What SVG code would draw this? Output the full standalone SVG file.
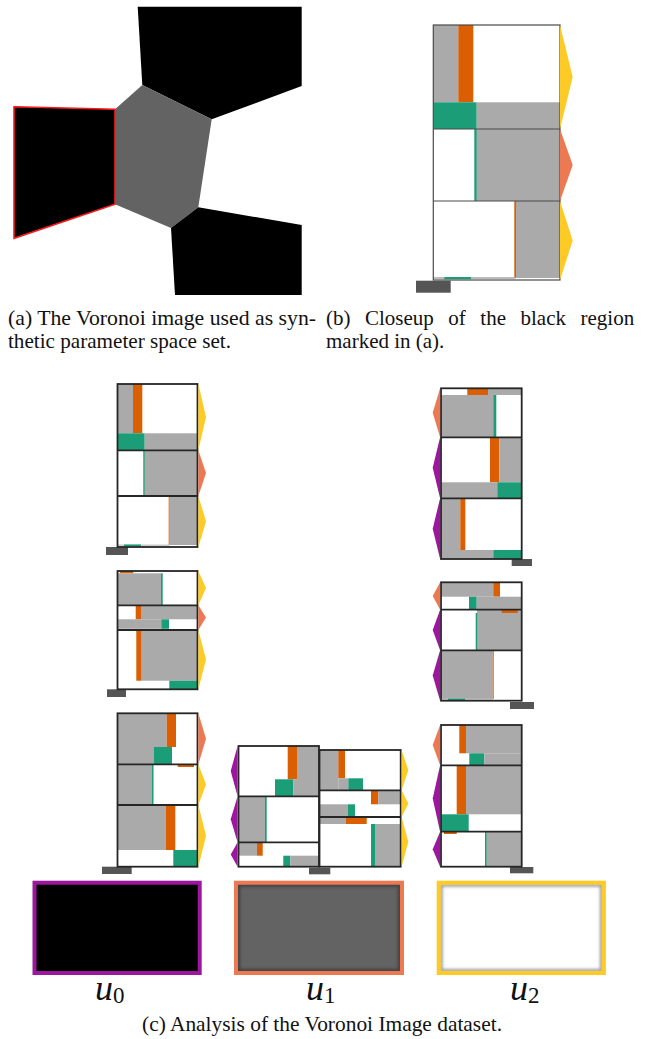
<svg xmlns="http://www.w3.org/2000/svg" width="654" height="1039" viewBox="0 0 654 1039">
<style>
.w{fill:#ffffff}
.g{fill:#aaaaaa}
.o{fill:#d95f02}
.n{fill:#1b9e77}
.b{fill:#555555}
.y{fill:#fdca26}
.s{fill:#ed7953}
.p{fill:#9c179e}
.f{fill:none;stroke:#262626;stroke-width:1.8}
.fc{fill:none;stroke:#4a4a4a;stroke-width:1.2}
.t{font-family:"Liberation Serif","Times New Roman",serif;font-size:21px;fill:#111}
.u{font-family:"Liberation Serif","Times New Roman",serif;font-size:36px;font-style:italic;fill:#111}
.sub{font-style:normal;font-size:23px}
</style>
<defs>
<filter id="blur" x="-10%" y="-10%" width="120%" height="120%"><feGaussianBlur stdDeviation="1.6"/></filter>
</defs>
<rect width="654" height="1039" fill="#ffffff"/>

<g id="voronoi">
<polygon points="137.7,6.7 301.7,6.7 301.7,86 211.7,119.3 142.3,85" fill="#000"/>
<polygon points="142.3,85 211.7,119.3 198.3,207.3 171,228 115,204.3 115,109.3" fill="#636363"/>
<polygon points="198.3,207.3 301.7,225 301.7,295 175,295 171,228" fill="#000"/>
<polygon points="14,106.7 115,109.3 115,204.3 14,238.3" fill="#000" stroke="#ff1a1a" stroke-width="1.6"/>
</g>

<g id="closeup">
<rect class="w" x="433.3" y="25" width="126.7" height="255"/>
<rect class="g" x="433.3" y="25" width="25" height="77.3"/>
<rect class="o" x="458.3" y="25" width="15" height="77.3"/>
<rect class="n" x="433.3" y="102.3" width="43.4" height="26.7"/>
<rect class="g" x="476.7" y="102.3" width="83.3" height="26.7"/>
<rect class="n" x="474.3" y="129" width="2.6" height="72"/>
<rect class="g" x="476.7" y="129" width="83.3" height="72"/>
<rect class="o" x="514.3" y="201" width="1.9" height="77"/>
<rect class="g" x="516" y="201" width="44" height="77"/>
<rect fill="#bbbbbb" x="433.3" y="277" width="82" height="2"/>
<rect class="n" x="444.3" y="277" width="26.7" height="2.2"/>
<rect class="b" x="416" y="280.7" width="34.7" height="12"/>
<rect class="fc" x="433.3" y="25" width="126.7" height="255"/>
<line class="fc" x1="433.3" y1="129" x2="560" y2="129"/>
<line class="fc" x1="433.3" y1="201" x2="560" y2="201"/>
<polygon class="y" points="560,25 572.7,77 560,129"/>
<polygon class="s" points="560,129 572.7,165 560,201"/>
<polygon class="y" points="560,201 572.7,240.5 560,280"/>
</g>

<g id="stackA">
<rect class="w" x="117.5" y="384" width="80" height="163"/>
<rect class="g" x="117.5" y="384" width="15.5" height="49.3"/>
<rect class="o" x="133" y="384" width="9.3" height="49.3"/>
<rect class="n" x="117.5" y="433.3" width="27.2" height="17"/>
<rect class="g" x="144.7" y="433.3" width="52.8" height="17"/>
<rect class="n" x="143.3" y="450.3" width="1.6" height="45.7"/>
<rect class="g" x="144.7" y="450.3" width="52.8" height="45.7"/>
<rect class="o" x="168.7" y="496" width="1" height="49"/>
<rect class="g" x="169.7" y="496" width="27.8" height="49"/>
<rect fill="#cccccc" x="117.5" y="544.5" width="52" height="1.5"/>
<rect class="n" x="124" y="544.5" width="17" height="1.8"/>
<rect class="b" x="106" y="547" width="22" height="8"/>
<rect class="f" x="117.5" y="384" width="80" height="163"/>
<line class="f" x1="117.5" y1="450.3" x2="197.5" y2="450.3"/>
<line class="f" x1="117.5" y1="496" x2="197.5" y2="496"/>
<polygon class="y" points="198.4,384 206,417 198.4,450.3"/>
<polygon class="s" points="198.4,450.3 206,473 198.4,496"/>
<polygon class="y" points="198.4,496 206,521.5 198.4,547"/>
</g>

<g id="stackB">
<rect class="w" x="117.5" y="571" width="80" height="118.3"/>
<rect class="o" x="120" y="571" width="13.3" height="2.3"/>
<rect class="g" x="117.5" y="573.3" width="43.5" height="32"/>
<rect class="n" x="161" y="573.3" width="1.7" height="32"/>
<rect class="o" x="135.7" y="605.3" width="5.3" height="14"/>
<rect class="g" x="141" y="605.3" width="56.5" height="14"/>
<rect class="g" x="117.5" y="619.3" width="43.8" height="9.5"/>
<rect class="n" x="161.3" y="619.3" width="7.7" height="9.5"/>
<rect class="o" x="136.3" y="630" width="5.4" height="50.7"/>
<rect class="g" x="141.7" y="630" width="55.8" height="50.7"/>
<rect class="n" x="169.3" y="680.7" width="28.2" height="8.6"/>
<rect class="b" x="107" y="689.3" width="19" height="7.7"/>
<rect class="f" x="117.5" y="571" width="80" height="118.3"/>
<line class="f" x1="117.5" y1="605.3" x2="197.5" y2="605.3"/>
<line class="f" x1="117.5" y1="630" x2="197.5" y2="630"/>
<polygon class="y" points="198.4,571 206,588 198.4,605.3"/>
<polygon class="s" points="198.4,605.3 206,617.6 198.4,630"/>
<polygon class="y" points="198.4,630 206,659.6 198.4,689.3"/>
</g>

<g id="stackC">
<rect class="w" x="117.5" y="713.3" width="80" height="153.4"/>
<rect class="g" x="117.5" y="713.3" width="49.2" height="33.7"/>
<rect class="o" x="166.7" y="713.3" width="9.3" height="33.7"/>
<rect class="g" x="117.5" y="747" width="36.5" height="17.3"/>
<rect class="n" x="154" y="747" width="18" height="17.3"/>
<rect class="o" x="177.7" y="764.3" width="16.3" height="2.7"/>
<rect class="g" x="117.5" y="764.3" width="34.2" height="40.7"/>
<rect class="n" x="151.7" y="764.3" width="1.8" height="40.7"/>
<rect class="g" x="117.5" y="805" width="48.2" height="45"/>
<rect class="o" x="165.7" y="805" width="9.6" height="45"/>
<rect class="n" x="173.3" y="850" width="24.2" height="16.7"/>
<rect class="b" x="102" y="866.7" width="29.7" height="7.3"/>
<rect class="f" x="117.5" y="713.3" width="80" height="153.4"/>
<line class="f" x1="117.5" y1="764.3" x2="197.5" y2="764.3"/>
<line class="f" x1="117.5" y1="805" x2="197.5" y2="805"/>
<polygon class="s" points="198.4,713.3 206,738.8 198.4,764.3"/>
<polygon class="y" points="198.4,764.3 206,784.6 198.4,805"/>
<polygon class="y" points="198.4,805 206,835.8 198.4,866.7"/>
</g>

<g id="stackD">
<rect class="w" x="238.5" y="746" width="80.5" height="120.7"/>
<rect class="o" x="287.7" y="746" width="9.3" height="33.3"/>
<rect class="g" x="297" y="746" width="22" height="50.3"/>
<rect class="n" x="275" y="779.3" width="18.3" height="17"/>
<rect class="g" x="293.3" y="779.3" width="25.7" height="17"/>
<rect class="g" x="238.5" y="796.3" width="26.5" height="46"/>
<rect class="n" x="265" y="796.3" width="1.7" height="46"/>
<rect class="g" x="238.5" y="842.3" width="18.5" height="13.4"/>
<rect class="o" x="257" y="842.3" width="5.7" height="13.4"/>
<rect class="n" x="283.3" y="855.7" width="7" height="11"/>
<rect class="g" x="290.3" y="855.7" width="28.7" height="11"/>
<rect class="w" x="319.5" y="750" width="81.2" height="116.7"/>
<rect class="g" x="319.5" y="750" width="18.8" height="40.3"/>
<rect class="o" x="338.3" y="750" width="6.7" height="28.3"/>
<rect class="g" x="338.3" y="778.3" width="10" height="12"/>
<rect class="n" x="348.3" y="778.3" width="14.7" height="12"/>
<rect class="o" x="371" y="790.3" width="7.3" height="14"/>
<rect class="g" x="378.3" y="790.3" width="22.4" height="14"/>
<rect class="g" x="319.5" y="804.3" width="28.2" height="12.7"/>
<rect class="n" x="347.7" y="804.3" width="7.3" height="12.7"/>
<rect class="g" x="319.5" y="817" width="26.5" height="7"/>
<rect class="o" x="346" y="817" width="20.7" height="7"/>
<rect class="n" x="371" y="824" width="4" height="42.7"/>
<rect class="g" x="375" y="824" width="25.7" height="42.7"/>
<rect class="b" x="309" y="867.7" width="21.3" height="6.6"/>
<rect class="f" x="238.5" y="746" width="80.5" height="120.7"/>
<line class="f" x1="238.5" y1="796.3" x2="319" y2="796.3"/>
<line class="f" x1="238.5" y1="842.3" x2="319" y2="842.3"/>
<rect class="f" x="319.5" y="750" width="81.2" height="116.7"/>
<line class="f" x1="319.5" y1="790.3" x2="400.7" y2="790.3"/>
<line class="f" x1="319.5" y1="817" x2="400.7" y2="817"/>
<polygon class="p" points="237.6,746 230.7,771 237.6,796.3"/>
<polygon class="p" points="237.6,796.3 230.7,819.3 237.6,842.3"/>
<polygon class="p" points="237.6,842.3 230.7,854.5 237.6,866.7"/>
<polygon class="y" points="401.6,750 408.3,770 401.6,790.3"/>
<polygon class="y" points="401.6,790.3 408.3,803.6 401.6,817"/>
<polygon class="y" points="401.6,817 408.3,841.8 401.6,866.7"/>
</g>

<g id="stackE">
<rect class="w" x="441" y="388.3" width="80.7" height="170.7"/>
<rect class="o" x="467.3" y="388.3" width="20.7" height="6.7"/>
<rect class="g" x="488" y="388.3" width="33.7" height="6.7"/>
<rect class="g" x="441" y="395" width="52.3" height="42.3"/>
<rect class="n" x="493.3" y="395" width="3" height="42.3"/>
<rect class="o" x="490" y="437.3" width="9.3" height="45"/>
<rect class="g" x="499.3" y="437.3" width="22.4" height="45"/>
<rect class="g" x="441" y="482.3" width="56.3" height="16"/>
<rect class="n" x="497.3" y="482.3" width="24.4" height="16"/>
<rect class="g" x="441" y="498.3" width="19.3" height="51.7"/>
<rect class="o" x="460.3" y="498.3" width="5" height="51.7"/>
<rect class="g" x="441" y="550" width="52.3" height="9"/>
<rect class="n" x="493.3" y="550" width="28.4" height="9"/>
<rect class="b" x="511.7" y="559" width="20.3" height="7"/>
<rect class="f" x="441" y="388.3" width="80.7" height="170.7"/>
<line class="f" x1="441" y1="437.3" x2="521.7" y2="437.3"/>
<line class="f" x1="441" y1="498.3" x2="521.7" y2="498.3"/>
<polygon class="s" points="440.1,388.3 432.7,412.8 440.1,437.3"/>
<polygon class="p" points="440.1,437.3 432.7,467.8 440.1,498.3"/>
<polygon class="p" points="440.1,498.3 432.7,528.7 440.1,559"/>
</g>

<g id="stackF">
<rect class="w" x="441" y="582.3" width="80.7" height="118.4"/>
<rect class="g" x="441" y="582.3" width="52.3" height="14.4"/>
<rect class="o" x="493.3" y="582.3" width="6.7" height="14.4"/>
<rect class="n" x="469" y="596.7" width="7.7" height="13"/>
<rect class="g" x="476.7" y="596.7" width="45" height="13"/>
<rect class="g" x="477" y="609.7" width="44.7" height="40.6"/>
<rect class="o" x="501.7" y="609.7" width="16" height="3.3"/>
<rect class="n" x="475.7" y="613" width="1.5" height="37.3"/>
<rect class="g" x="441" y="650.3" width="51.7" height="48.7"/>
<rect class="o" x="492.7" y="650.3" width="1" height="48.7"/>
<rect fill="#cccccc" x="441" y="698.7" width="52" height="2"/>
<rect class="n" x="448" y="698.7" width="17" height="2"/>
<rect class="b" x="510" y="702" width="24" height="7"/>
<rect class="f" x="441" y="582.3" width="80.7" height="118.4"/>
<line class="f" x1="441" y1="609.7" x2="521.7" y2="609.7"/>
<line class="f" x1="441" y1="650.3" x2="521.7" y2="650.3"/>
<polygon class="s" points="440.1,582.3 432.7,596 440.1,609.7"/>
<polygon class="p" points="440.1,609.7 432.7,630 440.1,650.3"/>
<polygon class="p" points="440.1,650.3 432.7,675.5 440.1,700.7"/>
</g>

<g id="stackG">
<rect class="w" x="441" y="725" width="80.7" height="141.7"/>
<rect class="o" x="459.3" y="725" width="6.7" height="28.3"/>
<rect class="g" x="466" y="725" width="55.7" height="28.3"/>
<rect class="n" x="469.3" y="753.3" width="15" height="12"/>
<rect class="g" x="484.3" y="753.3" width="37.4" height="12"/>
<rect class="o" x="456.7" y="765.3" width="9.3" height="49"/>
<rect class="g" x="466" y="765.3" width="55.7" height="49"/>
<rect class="n" x="441" y="814.3" width="27.7" height="17.4"/>
<rect class="o" x="444" y="831.7" width="12.7" height="2.3"/>
<rect class="n" x="485" y="831.7" width="1.8" height="35"/>
<rect class="g" x="486.7" y="831.7" width="35" height="35"/>
<rect class="b" x="510" y="867" width="23.3" height="6.3"/>
<rect class="f" x="441" y="725" width="80.7" height="141.7"/>
<line class="f" x1="441" y1="765.3" x2="521.7" y2="765.3"/>
<line class="f" x1="441" y1="831.7" x2="521.7" y2="831.7"/>
<polygon class="s" points="440.1,725 432.7,745 440.1,765.3"/>
<polygon class="p" points="440.1,765.3 432.7,798.5 440.1,831.7"/>
<polygon class="p" points="440.1,831.7 432.7,849.2 440.1,866.7"/>
</g>

<g id="u0">
<rect x="34.5" y="882.7" width="165.2" height="90.3" fill="#000" stroke="#9c179e" stroke-width="4"/>
<text class="u" x="95" y="1000">u<tspan class="sub" dy="3">0</tspan></text>
</g>
<g id="u1">
<rect x="236" y="882.7" width="166" height="90.3" fill="#636363"/>
<rect x="238.5" y="885.2" width="161" height="85.3" fill="none" stroke="#3e3e3e" stroke-width="3" filter="url(#blur)"/>
<rect x="236" y="882.7" width="166" height="90.3" fill="none" stroke="#ed7953" stroke-width="4"/>
<text class="u" x="306" y="1000">u<tspan class="sub" dy="3">1</tspan></text>
</g>
<g id="u2">
<rect x="438.7" y="882.7" width="165.2" height="90.3" fill="#fff"/>
<rect x="441.2" y="885.2" width="160.2" height="85.3" fill="none" stroke="#9a9a9a" stroke-width="3" filter="url(#blur)"/>
<rect x="438.7" y="882.7" width="165.2" height="90.3" fill="none" stroke="#fdca26" stroke-width="4"/>
<text class="u" x="510" y="1000">u<tspan class="sub" dy="3">2</tspan></text>
</g>

<g id="connectors"/>

<g id="captions">
<text class="t" x="8" y="325" textLength="308" lengthAdjust="spacingAndGlyphs">(a) The Voronoi image used as syn-</text>
<text class="t" x="8" y="348" textLength="223" lengthAdjust="spacingAndGlyphs">thetic parameter space set.</text>
<text class="t" y="325"><tspan x="326">(b)</tspan><tspan x="365">Closeup</tspan><tspan x="448.3">of</tspan><tspan x="480.3">the</tspan><tspan x="520.5">black</tspan><tspan x="580.5">region</tspan></text>
<text class="t" x="326" y="348">marked in (a).</text>
<text class="t" x="142" y="1031" textLength="360" lengthAdjust="spacingAndGlyphs">(c) Analysis of the Voronoi Image dataset.</text>
</g>
</svg>
